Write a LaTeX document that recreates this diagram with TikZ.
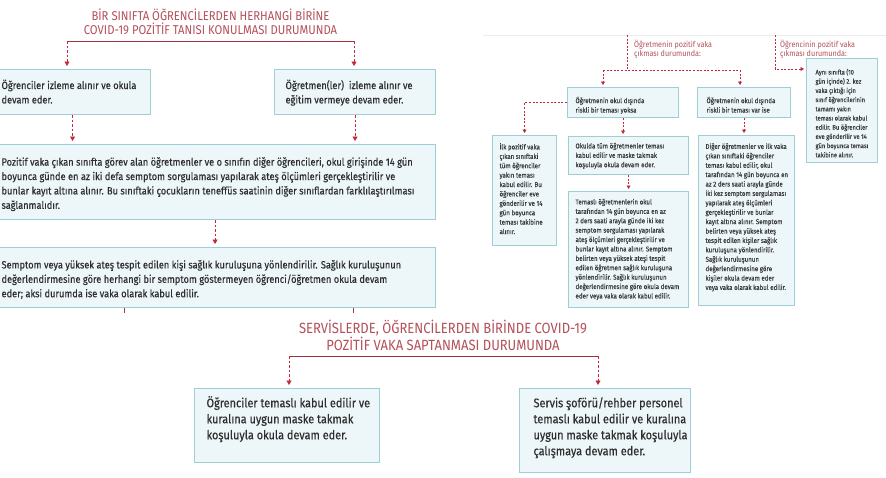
\documentclass[tikz,border=0pt]{standalone}
\usepackage{fontspec}
\setmainfont{Fira Sans}[FakeStretch=0.88,FakeBold=0.3]
\newfontfamily\ttlfont{Fira Sans}[FakeStretch=0.88]
\usetikzlibrary{arrows.meta}
\definecolor{boxfill}{HTML}{EDF6F9}
\definecolor{boxline}{HTML}{9CD0D4}
\definecolor{txtc}{HTML}{2E2E2E}
\definecolor{smtxt}{HTML}{3C3C3C}
\definecolor{ttlc}{HTML}{B4505A}
\definecolor{arrc}{HTML}{C3293B}
\definecolor{brkc}{HTML}{A3333F}
\definecolor{rulec}{HTML}{ECECEC}
\newcommand\bxlines[1]{\begin{tabular}[t]{@{}l@{}}#1\end{tabular}}
\newcommand\mkbox[9]{%
 \node[boxst,#8,inner xsep=#6pt,inner ysep=0pt] (#1) at (#2,#3)
 {\parbox[c][#5pt][t]{\dimexpr#4pt-#6pt-#6pt\relax}{\vspace*{#7pt}\bxlines{#9}}};}
\tikzset{
 boxst/.style={draw=boxline,line width=1.1pt,fill=boxfill,text=txtc,anchor=north west},
 fmed/.style={font=\fontsize{10.5}{14.4}\selectfont},
 fbig/.style={font=\fontsize{12.4}{16}\selectfont},
 fsml/.style={font=\fontsize{7}{9.4}\selectfont,text=smtxt},
 fsmlc/.style={font=\fontsize{6.6}{9.2}\selectfont,text=smtxt},
 darr/.style={draw=arrc,line width=0.9pt,dash pattern=on 2.5pt off 2pt,-{Triangle[width=5pt,length=4.5pt]},shorten >=3pt},
 sdarr/.style={draw=arrc,line width=0.7pt,dash pattern=on 2pt off 1.6pt,-{Triangle[width=3.8pt,length=3.4pt]},shorten >=2pt},
 dln/.style={draw=arrc,line width=0.7pt,dash pattern=on 2pt off 1.6pt},
 brk/.style={draw=brkc,line width=0.8pt},
 ttl/.style={text=ttlc,align=center},
 lbl/.style={text=ttlc,anchor=north west,inner sep=0pt,font=\ttlfont\fontsize{8.2}{8.5}\selectfont},
}
\begin{document}
\begin{tikzpicture}[x=1pt,y=-1pt]
\useasboundingbox (0,0) rectangle (886,477);
\fill[white] (0,0) rectangle (886,477);
\clip (0,0) rectangle (886,477);

% ---------- left upper panel
\node[ttl,font=\ttlfont\fontsize{12.8}{13.5}\selectfont] (t1) at (210.5,21.8) {BİR SINIFTA ÖĞRENCİLERDEN HERHANGİ BİRİNE\\COVID-19 POZİTİF TANISI KONULMASI DURUMUNDA};
\mkbox{b1}{-6}{69}{156}{45}{7}{9.4}{fmed}{Öğrenciler izleme alınır ve okula\\devam eder.}
\mkbox{b2}{274}{69}{161}{45}{11}{9.4}{fmed}{Öğretmen(ler)\ \ izleme alınır ve\\eğitim vermeye devam eder.}
\mkbox{b3}{-6}{144}{441}{75}{7}{11}{fmed}{Pozitif vaka çıkan sınıfta görev alan öğretmenler ve o sınıfın diğer öğrencileri, okul girişinde 14 gün\\boyunca günde en az iki defa semptom sorgulaması yapılarak ateş ölçümleri gerçekleştirilir ve\\bunlar kayıt altına alınır. Bu sınıftaki çocukların teneffüs saatinin diğer sınıflardan farklılaştırılması\\sağlanmalıdır.}
\mkbox{b4}{-6}{247}{441}{60}{7}{10.8}{fmed}{Semptom veya yüksek ateş tespit edilen kişi sağlık kuruluşuna yönlendirilir. Sağlık kuruluşunun\\değerlendirmesine göre herhangi bir semptom göstermeyen öğrenci/öğretmen okula devam\\eder; aksi durumda ise vaka olarak kabul edilir.}
\coordinate (tL) at (67,41); \coordinate (tR) at (354,41);
\draw[brk] (tL) -- (tR);
\draw[darr] (tL) -- (tL |- b1.north);
\draw[darr] (tR) -- (tR |- b2.north);
\draw[darr] (b1.south) -- (b1.south |- b3.north);
\draw[darr] (b2.south) -- (b2.south |- b3.north);
\draw[darr] (b3.south) -- (b3.south |- b4.north);
\draw[brk] (124,308) -- (124,313);
\draw[brk] (353,308) -- (353,313);

% ---------- lower panel
\node[ttl,font=\ttlfont\fontsize{14.8}{15.5}\selectfont] (t2) at (443,335.5) {SERVİSLERDE, ÖĞRENCİLERDEN BİRİNDE COVID-19\\POZİTİF VAKA SAPTANMASI DURUMUNDA};
\mkbox{bL}{194}{388}{185}{74}{12}{7.5}{fbig}{Öğrenciler temaslı kabul edilir ve\\kuralına uygun maske takmak\\koşuluyla okula devam eder.}
\mkbox{bR}{519}{388}{171}{84}{14}{7.5}{fbig}{Servis şoförü/rehber personel\\temaslı kabul edilir ve kuralına\\uygun maske takmak koşuluyla\\çalışmaya devam eder.}
\coordinate (uL) at (289,356); \coordinate (uR) at (598,356);
\draw[brk] (uL) -- (uR);
\draw[darr] (uL) -- (uL |- bL.north);
\draw[darr] (uR) -- (uR |- bR.north);

% ---------- right panel
\draw[rulec,line width=0.8pt] (483,35) -- (886,35);
\node[lbl] (l1) at (634,40) {\bxlines{Öğretmenin pozitif vaka\\çıkması durumunda:}};
\node[lbl] (l2) at (780,40) {\bxlines{Öğrencinin pozitif vaka\\çıkması durumunda:}};
\mkbox{bA}{567}{87}{111}{30}{8}{9}{fsml}{Öğretmenin okul dışında\\riskli bir teması yoksa}
\mkbox{bB}{697}{87}{93}{30}{9}{9}{fsml}{Öğretmenin okul dışında\\riskli bir teması var ise}
\mkbox{bC}{806}{58}{71}{104}{9}{9.5}{fsmlc}{Aynı sınıfta (10\\gün içinde) 2. kez\\vaka çıktığı için\\sınıf öğrencilerinin\\tamamı yakın\\teması olarak kabul\\edilir. Bu öğrenciler\\eve gönderilir ve 14\\gün boyunca teması\\takibine alınır.}
\mkbox{bD}{492}{135}{64}{110}{7}{7.3}{fsml}{İlk pozitif vaka\\çıkan sınıftaki\\tüm öğrenciler\\yakın teması\\kabul edilir. Bu\\öğrenciler eve\\gönderilir ve 14\\gün boyunca\\teması takibine\\alınır.}
\mkbox{bE}{568}{136}{120}{38}{7}{5.3}{fsml}{Okulda tüm öğretmenler teması\\kabul edilir ve maske takmak\\koşuluyla okula devam eder.}
\mkbox{bF}{568}{191}{120}{116}{7}{6.3}{fsml}{Temaslı öğretmenlerin okul\\tarafından 14 gün boyunca en az\\2 ders saati arayla günde iki kez\\semptom sorgulaması yapılarak\\ateş ölçümleri gerçekleştirilir ve\\bunlar kayıt altına alınır. Semptom\\belirten veya yüksek ateşi tespit\\edilen öğretmen sağlık kuruluşuna\\yönlendirilir. Sağlık kuruluşunun\\değerlendirmesine göre okula devam\\eder veya vaka olarak kabul edilir.}
\mkbox{bG}{698}{135}{96}{170}{7}{6.8}{fsml}{Diğer öğretmenler ve ilk vaka\\çıkan sınıftaki öğrenciler\\teması kabul edilir, okul\\tarafından 14 gün boyunca en\\az 2 ders saati arayla günde\\iki kez semptom sorgulaması\\yapılarak ateş ölçümleri\\gerçekleştirilir ve bunlar\\kayıt altına alınır. Semptom\\belirten veya yüksek ateş\\tespit edilen kişiler sağlık\\kuruluşuna yönlendirilir.\\Sağlık kuruluşunun\\değerlendirmesine göre\\kişiler okula devam eder\\veya vaka olarak kabul edilir.}
\coordinate (s1) at (627,35); \coordinate (kL) at (603,70); \coordinate (kR) at (740,70);
\draw[dln] (s1) -- (s1 |- kL);
\draw[dln] (kL) -- (kR);
\draw[sdarr] (kL) -- (kL |- bA.north);
\draw[sdarr] (kR) -- (kR |- bB.north);
\coordinate (s2) at (775,35); \coordinate (s2b) at (775,69);
\draw[sdarr] (s2) -- (s2b) -- (s2b -| bC.west);
\draw[sdarr] (bA.west) -- (bA.west -| bD.north) -- (bD.north);
\draw[sdarr] (bA.south) -- (bA.south |- bE.north);
\draw[sdarr] (bE.south) -- (bE.south |- bF.north);
\draw[sdarr] (bB.south) -- (bB.south |- bG.north);
\end{tikzpicture}
\end{document}
